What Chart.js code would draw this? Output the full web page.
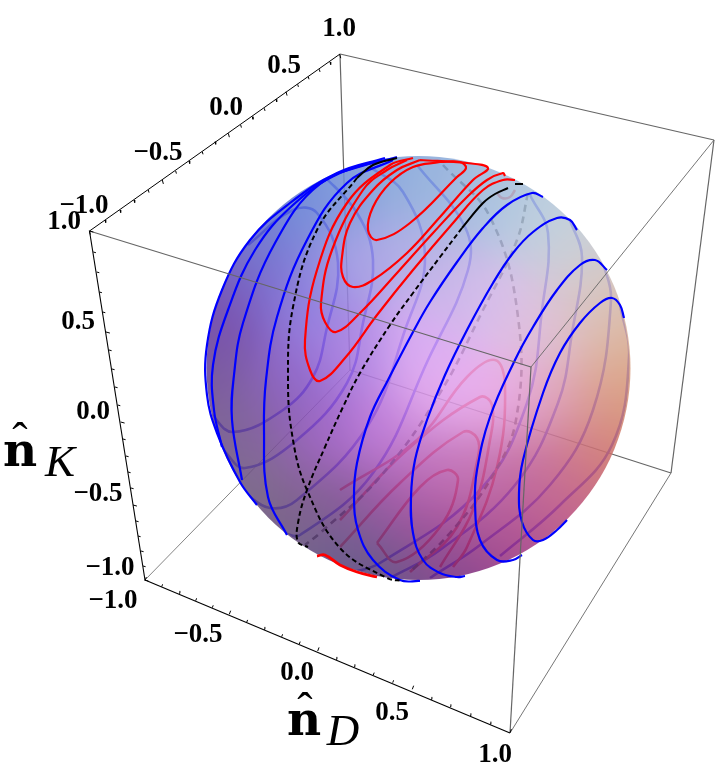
<!DOCTYPE html>
<html>
<head>
<meta charset="utf-8">
<title>Sphere contours</title>
<script src="https://cdn.jsdelivr.net/npm/chart.js@4"></script>
<style>
  html, body { margin: 0; padding: 0; background: #fff; }
  #wrap { width: 720px; height: 780px; }
</style>
</head>
<body>
<div id="wrap"><canvas id="c" width="720" height="780"></canvas></div>
<script>

// box corners
const cTopBack   = [340, 54];
const cTopLeft   = [89.5, 231];
const cTopRight  = [714, 140];
const cTopFront  = [531, 367];
const cLowLeft   = [145, 580];
const cLowFront  = [510, 733];
const cLowRight  = [671, 473];
const cLowBack   = [350, 370];

// tick positions along the three labelled edges, -1.0 to 1.0 by 0.1
const topTicks = [[89.3,230.7],[105,220],[120,210],[134,200],[148.3,190],[162.3,180],[175.7,171],[189,161],[202.3,151.7],[215,141.7],[228.3,133.3],[240.7,125],[252.3,116.7],[264.3,108.3],[276,99.3],[286,91.7],[297.7,84.3],[308.3,76.7],[319.3,69.3],[330,62],[339.7,54.3]];
const leftTicks = [[89.5,231],[93.3,252],[96.7,272],[99.3,292],[102.7,312],[106,332],[109,350],[112,369],[115,387],[117.7,405],[120.7,422],[123,439],[126,456],[128,472],[131,488],[133,505],[136,521],[138,536],[141,551],[143,566],[144.5,580]];
const bottomTicks = [[145,580.7],[161.7,586.7],[179,593.3],[195.7,600.7],[212.3,607.7],[229.3,614.3],[246.7,622.3],[264,629.3],[281.7,636.7],[299.3,644],[317.7,651],[336,659.3],[354,666.7],[373.3,675],[392.7,682.7],[412.3,689.3],[431,699.3],[450,706.7],[470,715.7],[490,724],[510,732.7]];

// tick labels
const topLabels    = [['1.0',339,29],['0.5',284,66],['0.0',226,108],['\u22120.5',158,153],['\u22121.0',84,206]];
const leftLabels   = [['1.0',64,222],['0.5',78,322],['0.0',93,412],['\u22120.5',98,494],['\u22121.0',110,568]];
const bottomLabels = [['\u22121.0',113,601],['\u22120.5',198,635],['0.0',297,673],['0.5',392,713],['1.0',495,755]];

// front contours, blue
const blueFront = [
  [[385,158],[337,173],[290,203],[250,240],[222,290],[207,345],[207,395],[217,433],[240,482],[257,505]],
  [[397,157],[340,173],[293,205],[255,250],[228,310],[213,365],[214,410],[222,447]],
  [[380,160],[320,184],[275,243],[243,323],[234,375],[232,420],[242,480]],
  [[393,160],[347,183],[307,240],[277,317],[266,380],[264,430],[268,497],[287,535]],
  [[543,197],[532,193],[507,205],[483,228],[457,262],[430,302],[413,332],[388,380],[370,417],[357,463],[354,497],[358,530],[373,560],[400,580],[420,581]],
  [[577,230],[570,220],[557,218],[533,232],[513,253],[493,283],[467,330],[445,375],[427,420],[415,460],[411,497],[413,533],[423,560],[440,573],[457,577],[465,576]],
  [[607,270],[595,260],[580,265],[557,290],[533,327],[515,360],[490,417],[477,470],[475,503],[480,540],[497,560],[513,560],[522,555]],
  [[624,318],[620,305],[612,298],[600,303],[580,323],[560,353],[543,393],[523,460],[519,493],[522,522],[533,540],[543,540],[557,530],[567,520]]
];

// front contours, red
const redFront = [
  [[440,162],[460,162],[466,168],[457,177],[410,223],[377,240],[368,230],[373,207],[390,183],[413,167],[440,162]],
  [[420,160],[467,163],[488,168],[473,180],[440,217],[407,253],[373,280],[353,287],[343,277],[342,257],[350,223],[373,190],[397,170],[420,160]],
  [[505,176],[503,173],[487,180],[467,197],[433,233],[397,273],[360,313],[336,332],[325,322],[321,303],[332,250],[363,190],[387,170],[407,160]],
  [[515,180],[503,180],[483,190],[453,223],[413,270],[377,315],[345,358],[320,381],[310,370],[305,340],[317,270],[347,203],[390,165],[413,158]]
];
const redBottom = [[317,556],[325,555],[340,565],[357,572],[377,577]];

// front contours, black
const blackLeftSolid = [[397,158],[373,165],[357,178]];
const blackLeftDash = [[357,178],[317,230],[293,307],[288,380],[293,440],[307,490],[340,548],[387,578],[403,581]];
const blackRightSolid = [[462,228],[483,203],[495,194],[508,188]];
const blackRightTip = [[515,184],[523,184]];
const blackRightDash = [[462,228],[440,257],[413,293],[390,325],[360,373],[343,407],[325,447],[307,490],[298,523],[298,542],[308,547]];

// back contours, seen through the sphere
const blueBack = [
  [[248,245],[293,210],[317,213],[338,263],[326,332],[313,377],[283,410],[233,432],[210,413]],
  [[320,172],[357,213],[373,260],[363,323],[347,383],[297,440],[245,468],[223,450]],
  [[370,167],[403,192],[425,257],[405,330],[367,427],[297,500],[270,508],[243,492]],
  [[417,165],[465,227],[468,270],[428,360],[373,473],[300,535],[283,533]],
  [[530,195],[548,233],[542,310],[527,403],[480,490],[380,563],[350,573]],
  [[570,220],[582,257],[572,333],[558,403],[515,485],[440,550],[390,578]],
  [[603,262],[611,300],[593,410],[550,485],[480,545],[430,578]],
  [[620,305],[629,357],[612,445],[560,505],[500,556]]
];
const redBack = [
  [[377,543],[397,562],[440,527],[458,480],[447,470],[420,487],[377,543]],
  [[340,547],[400,483],[463,432],[477,438],[478,457],[457,527],[410,572]],
  [[340,520],[407,450],[480,397],[492,405],[490,440],[473,510],[440,567]],
  [[340,490],[417,440],[467,377],[495,360],[505,385],[497,467],[467,547],[453,567]],
  [[497,193],[502,198],[510,197],[515,190]]
];
const blackBack = [
  [[443,165],[490,217],[518,317],[516,420],[490,480],[450,533],[410,572]],
  [[528,193],[517,240],[483,310],[440,393],[380,477],[320,533],[305,545]]
];

// sphere outline and colours sampled over its face
const sphereCentre = [418.5, 368];
const sphereRadius = 212;
const sphereAlpha = 0.87;
const shade = [
  [400,170,'#8fb0dc'],[360,178,'#8fa8dc'],[430,190,'#9fb8e0'],[480,200,'#a8c0e0'],[530,215,'#bcd0e0'],[570,250,'#ccd0d8'],
  [600,300,'#d8c8c0'],[620,340,'#deb8a0'],[627,380,'#dca888'],[615,420,'#d89078'],[590,460,'#d07878'],[550,500,'#c0608c'],
  [500,540,'#a84c90'],[450,570,'#80468c'],[390,575,'#6a5888'],[340,555,'#68608c'],[290,525,'#786888'],[250,480,'#7f7088'],
  [225,430,'#7c6890'],[212,370,'#7a5aa0'],[225,310,'#7a50b0'],[250,260,'#7470cc'],[285,215,'#7488d8'],[330,185,'#7492dc'],
  [300,300,'#8f80e0'],[350,260,'#a8a0e4'],[400,250,'#b4b0e8'],[450,280,'#c8b8e8'],[500,300,'#dcc0ec'],[550,330,'#e0c0d8'],
  [420,340,'#dcaef4'],[350,350,'#b088e4'],[290,380,'#9068cc'],[260,430,'#8860a8'],[320,440,'#a468c8'],[380,430,'#c080dc'],
  [440,400,'#e8b0f0'],[500,400,'#ecb0ec'],[560,400,'#e0a8c0'],[480,470,'#cc80c0'],[430,470,'#c070b8'],[540,460,'#cc7ca8'],
  [380,510,'#9c58a4'],[440,530,'#a8559c'],[320,500,'#885c98'],[500,500,'#b8609c']
];

const toPts = arr => arr.map(p => ({ x: p[0], y: p[1] }));

function curve(pts, color, width, dash) {
  return {
    data: toPts(pts), showLine: true, borderColor: color, borderWidth: width,
    borderDash: dash || [], tension: 0.4, pointRadius: 0, fill: false
  };
}
function backCurve(pts, color, width, dash) {
  return Object.assign(curve(pts, color, width, dash), { insideSphere: true });
}
function edge(a, b, color, width) {
  return {
    data: toPts([a, b]), showLine: true, borderColor: color, borderWidth: width,
    tension: 0, pointRadius: 0, fill: false
  };
}
// short strokes pointing into the box, longer on the 0.5 steps
function ticks(list, dx, dy, edgeColor) {
  const data = [];
  list.forEach((t, i) => {
    const k = i % 5 === 0 ? 1.5 : 1;
    data.push({ x: t[0], y: t[1] }, { x: t[0] + dx * k, y: t[1] + dy * k }, { x: null, y: null });
  });
  return { data, showLine: true, borderColor: edgeColor, borderWidth: 1, tension: 0, pointRadius: 0, spanGaps: false };
}

function spherePixels(chart) {
  const xs = chart.scales.x, ys = chart.scales.y;
  const cx = xs.getPixelForValue(sphereCentre[0]), cy = ys.getPixelForValue(sphereCentre[1]);
  return { cx, cy, r: xs.getPixelForValue(sphereCentre[0] + sphereRadius) - cx };
}

function paintSphere(chart) {
  const xs = chart.scales.x, ys = chart.scales.y;
  const { cx, cy, r } = spherePixels(chart);
  const size = Math.ceil(r * 2) + 2;
  const off = document.createElement('canvas');
  off.width = off.height = size;
  const octx = off.getContext('2d');
  const img = octx.createImageData(size, size);
  const anchors = shade.map(s => ({
    x: xs.getPixelForValue(s[0]) - cx + size / 2,
    y: ys.getPixelForValue(s[1]) - cy + size / 2,
    r: parseInt(s[2].slice(1, 3), 16), g: parseInt(s[2].slice(3, 5), 16), b: parseInt(s[2].slice(5, 7), 16)
  }));
  const undo = v => (v - 255 * (1 - sphereAlpha)) / sphereAlpha;
  for (let py = 0; py < size; py++) {
    for (let px = 0; px < size; px++) {
      let R = 0, G = 0, B = 0, W = 0;
      anchors.forEach(a => {
        const d2 = (px - a.x) * (px - a.x) + (py - a.y) * (py - a.y);
        const w = Math.exp(-d2 / 2200);
        R += w * a.r; G += w * a.g; B += w * a.b; W += w;
      });
      const i = (py * size + px) * 4;
      img.data[i] = undo(R / W); img.data[i + 1] = undo(G / W); img.data[i + 2] = undo(B / W);
      img.data[i + 3] = 255;
    }
  }
  octx.putImageData(img, 0, 0);
  const ctx = chart.ctx;
  ctx.save();
  ctx.beginPath();
  ctx.arc(cx, cy, r, 0, Math.PI * 2);
  ctx.clip();
  ctx.globalAlpha = sphereAlpha;
  ctx.drawImage(off, cx - size / 2, cy - size / 2);
  ctx.restore();
}

const spherePlugin = {
  id: 'sphere',
  beforeDatasetDraw(chart, args) {
    const ds = chart.data.datasets[args.index];
    if (ds.isSphere) paintSphere(chart);
    if (ds.insideSphere) {
      const { cx, cy, r } = spherePixels(chart);
      chart.ctx.save();
      chart.ctx.beginPath();
      chart.ctx.arc(cx, cy, r - 1, 0, Math.PI * 2);
      chart.ctx.clip();
    }
  },
  afterDatasetDraw(chart, args) {
    if (chart.data.datasets[args.index].insideSphere) chart.ctx.restore();
  }
};

const textPlugin = {
  id: 'boxText',
  afterDatasetsDraw(chart) {
    const ctx = chart.ctx, xs = chart.scales.x, ys = chart.scales.y;
    const put = (s, x, y) => ctx.fillText(s, xs.getPixelForValue(x), ys.getPixelForValue(y));
    ctx.save();
    ctx.fillStyle = '#000';
    ctx.textAlign = 'center';
    ctx.textBaseline = 'middle';
    ctx.font = 'bold 27px "Liberation Serif"';
    [...topLabels, ...leftLabels, ...bottomLabels].forEach(l => put(l[0], l[1], l[2]));
    ctx.textBaseline = 'alphabetic';
    ctx.font = 'bold 47px "DejaVu Serif"';
    put('n', 20, 466);
    put('n', 304, 735);
    ctx.font = '46px "Liberation Serif"';
    put('\u02c6', 20, 455);
    put('\u02c6', 305, 725);
    ctx.font = 'italic 45px "Liberation Serif"';
    put('K', 60, 476);
    put('D', 343, 745);
    ctx.restore();
  }
};

const BLUE = '#0000ff', RED = '#ff0000', GREY = '#666666';

// bottom layer first
const layers = [
  edge(cTopBack, cLowBack, GREY, 1.2),
  edge(cLowLeft, cLowBack, GREY, 0.8),
  edge(cLowBack, cLowRight, GREY, 1.2),
  edge(cTopRight, cLowRight, GREY, 1.2),
  edge(cLowFront, cLowRight, GREY, 0.9),
  edge(cTopBack, cTopRight, GREY, 1.2),
  ...blueBack.map(c => backCurve(c, BLUE, 2.6)),
  ...redBack.map(c => backCurve(c, RED, 2.6)),
  ...blackBack.map(c => backCurve(c, '#000', 2.6, [7, 5])),
  { data: toPts([sphereCentre]), isSphere: true, pointRadius: 0, showLine: false },
  ...blueFront.map(c => curve(c, BLUE, 2.2)),
  ...redFront.map(c => curve(c, RED, 2.2)),
  curve(redBottom, RED, 2.8),
  curve(blackLeftSolid, '#000', 2),
  curve(blackLeftDash, '#000', 2, [5, 3]),
  curve(blackRightSolid, '#000', 2),
  curve(blackRightTip, '#000', 2),
  curve(blackRightDash, '#000', 2, [5, 3]),
  edge(cTopLeft, cTopFront, GREY, 1.2),
  edge(cTopFront, cTopRight, GREY, 0.9),
  edge(cTopFront, cLowFront, GREY, 1.2),
  edge(cTopLeft, cTopBack, '#000', 1),
  edge(cTopLeft, cLowLeft, '#000', 1.1),
  edge(cLowLeft, cLowFront, '#000', 1.1),
  ticks(topTicks, 0.7, 2.6, '#000'),
  ticks(leftTicks, 2.6, 0.7, '#000'),
  ticks(bottomTicks, 0.9, -2.4, '#000')
];

new Chart(document.getElementById('c'), {
  type: 'scatter',
  data: { datasets: layers.slice().reverse() },
  options: {
    responsive: false,
    animation: false,
    layout: { padding: 0 },
    plugins: { legend: { display: false }, tooltip: { enabled: false } },
    scales: {
      x: { type: 'linear', min: 0, max: 720, display: false },
      y: { type: 'linear', min: 0, max: 780, reverse: true, display: false }
    }
  },
  plugins: [spherePlugin, textPlugin]
});
</script>
</body>
</html>
